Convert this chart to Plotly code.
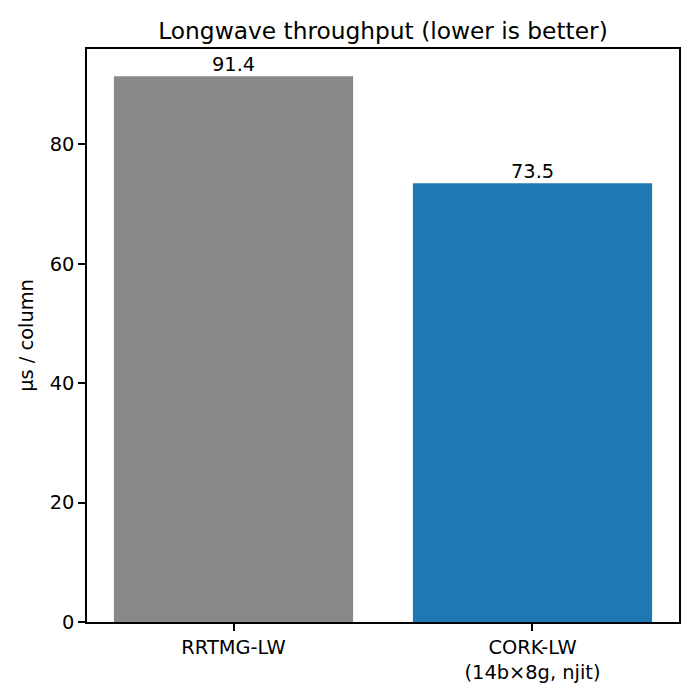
import plotly.graph_objects as go

categories = ["RRTMG-LW", "CORK-LW<br>(14b×8g, njit)"]
values = [91.4, 73.5]
bar_colors = ["#888888", "#1f77b4"]
value_labels = ["91.4", "73.5"]

# the page body has an 8px margin, so the figure is 684px and sits inside it
fig = go.Figure()
fig.add_trace(go.Bar(
    x=[0, 1], y=values,
    width=0.8,
    marker=dict(color=bar_colors, line=dict(width=0)),
    hoverinfo="skip",
))

for i, (v, lab) in enumerate(zip(values, value_labels)):
    fig.add_annotation(x=i, y=v, text=lab, showarrow=False,
                       xanchor="center", yanchor="bottom", yshift=-2,
                       font=dict(size=19.4, color="black"))

fig.update_layout(
    width=684, height=684,
    paper_bgcolor="white", plot_bgcolor="white",
    font=dict(family="DejaVu Sans", size=19.4, color="black"),
    title=dict(text="Longwave throughput (lower is better)", x=0.5, xanchor="center",
               xref="paper", y=1 - 23 / 684, yanchor="middle", font=dict(size=23.3)),
    margin=dict(l=79, r=13, t=41, b=70, autoexpand=False),
    showlegend=False,
)
fig.update_xaxes(
    range=[-0.49, 1.49],
    tickmode="array", tickvals=[0, 1], ticktext=categories,
    tickfont=dict(size=19.4),
    showline=True, linecolor="black", linewidth=1.5, mirror=True,
    ticks="outside", ticklen=7, tickcolor="black", tickwidth=1.5,
    showgrid=False, zeroline=False, automargin=False,
)
fig.update_yaxes(
    range=[0, 95.97],
    tickvals=[0, 20, 40, 60, 80],
    tickfont=dict(size=19.4),
    title=dict(text="µs / column", standoff=11, font=dict(size=19.4)),
    showline=True, linecolor="black", linewidth=1.5, mirror=True,
    ticks="outside", ticklen=7, tickcolor="black", tickwidth=1.5,
    showgrid=False, zeroline=False, automargin=False,
)

fig.write_html("out.html")
